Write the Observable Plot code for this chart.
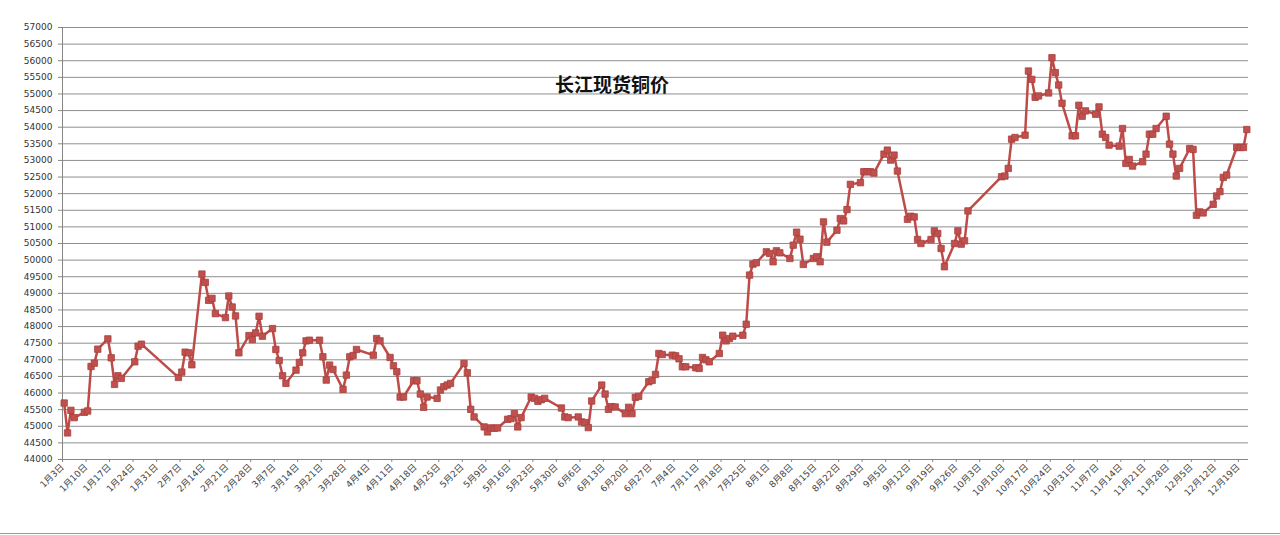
<!DOCTYPE html>
<html>
<head>
<meta charset="utf-8">
<script src="https://cdn.jsdelivr.net/npm/d3@7"></script>
<script src="https://cdn.jsdelivr.net/npm/@observablehq/plot@0.6"></script>
<style>
  html, body { margin: 0; padding: 0; background: #fff; }
  #wrap { position: relative; width: 1280px; height: 535px; overflow: hidden; }
  #title { position: absolute; left: 612px; top: 74px; transform: translateX(-50%);
           font-family: "Noto Sans CJK SC", sans-serif; font-weight: 700; font-size: 19px;
           line-height: 19px; color: #111; white-space: nowrap; }
  #border { position: absolute; left: 0; top: 533px; width: 1280px; height: 1px; background: #9a9a9a; }
</style>
</head>
<body>
<div id="wrap">
  <div id="chart"></div>
  <div id="title">长江现货铜价</div>
  <div id="border"></div>
</div>
<script>
// trading dates (month-day, 2017) and spot copper prices (yuan/ton)
const dates = [
  "1-3","1-4","1-5","1-6","1-9","1-10","1-11","1-12","1-13","1-16","1-17","1-18","1-19","1-20","1-24","1-25","1-26",
  "2-6","2-7","2-8","2-9","2-10","2-13","2-14","2-15","2-16","2-17","2-20","2-21","2-22","2-23","2-24","2-27","2-28",
  "3-1","3-2","3-3","3-6","3-7","3-8","3-9","3-10","3-13","3-14","3-15","3-16","3-17","3-20","3-21","3-22","3-23","3-24","3-27","3-28","3-29","3-30","3-31",
  "4-5","4-6","4-7","4-10","4-11","4-12","4-13","4-14","4-17","4-18","4-19","4-20","4-21","4-24","4-25","4-26","4-27","4-28",
  "5-2","5-3","5-4","5-5","5-8","5-9","5-10","5-11","5-12","5-15","5-16","5-17","5-18","5-19","5-22","5-23","5-24","5-25","5-26","5-31",
  "6-1","6-2","6-5","6-6","6-7","6-8","6-9","6-12","6-13","6-14","6-15","6-16","6-19","6-20","6-21","6-22","6-23","6-26","6-27","6-28","6-29","6-30",
  "7-3","7-4","7-5","7-6","7-7","7-10","7-11","7-12","7-13","7-14","7-17","7-18","7-19","7-20","7-21","7-24","7-25","7-26","7-27","7-28","7-31",
  "8-1","8-2","8-3","8-4","8-7","8-8","8-9","8-10","8-11","8-14","8-15","8-16","8-17","8-18","8-21","8-22","8-23","8-24","8-25","8-28","8-29","8-30","8-31",
  "9-1","9-4","9-5","9-6","9-7","9-8","9-11","9-12","9-13","9-14","9-15","9-18","9-19","9-20","9-21","9-22","9-25","9-26","9-27","9-28","9-29",
  "10-9","10-10","10-11","10-12","10-13","10-16","10-17","10-18","10-19","10-20","10-23","10-24","10-25","10-26","10-27","10-30","10-31",
  "11-1","11-2","11-3","11-6","11-7","11-8","11-9","11-10","11-13","11-14","11-15","11-16","11-17","11-20","11-21","11-22","11-23","11-24","11-27","11-28","11-29","11-30",
  "12-1","12-4","12-5","12-6","12-7","12-8","12-11","12-12","12-13","12-14","12-15","12-18","12-19","12-20","12-21"
];
const prices = [
  45700,44800,45480,45260,45420,45460,46800,46900,47320,47630,47060,46260,46520,46440,46940,47410,47470,
  46470,46630,47230,47210,46850,49580,49330,48790,48850,48390,48270,48920,48590,48320,47210,47730,47610,
  47810,48310,47710,47940,47310,46980,46520,46290,46690,46920,47210,47570,47590,47590,47090,46390,46840,46710,46110,46540,47090,47130,47310,
  47140,47640,47570,47070,46820,46640,45880,45880,46370,46370,45970,45570,45880,45840,46090,46190,46240,46290,
  46890,46610,45510,45280,44980,44830,44950,44940,44950,45210,45230,45380,44980,45260,45880,45840,45750,45800,45840,45550,
  45280,45260,45280,45130,45110,44960,45760,46240,45970,45510,45590,45580,45380,45570,45380,45870,45900,46340,46380,46560,47190,47160,
  47140,47120,47030,46790,46790,46760,46740,47070,47000,46940,47190,47740,47570,47640,47710,47740,48070,49550,49880,49920,50250,
  50200,49950,50280,50220,50050,50450,50840,50630,49870,50050,50100,49950,51150,50540,50900,51250,51180,51520,52280,52330,52660,52660,52660,
  52620,53190,53310,53010,53160,52680,51230,51320,51300,50620,50500,50620,50880,50800,50350,49800,50500,50880,50480,50580,51480,
  52510,52530,52760,53640,53690,53760,55690,55440,54900,54940,55030,56090,55640,55270,54720,53740,53740,
  54660,54330,54490,54390,54610,53790,53690,53460,53430,53960,52910,53030,52830,52960,53190,53790,53790,53960,54330,53490,53190,52530,
  52760,53360,53330,51350,51450,51420,51680,51930,52060,52490,52560,53390,53390,53390,53930
];
// x-axis tick labels (weekly)
const xTickLabels = [
  "1-3","1-10","1-17","1-24","1-31","2-7","2-14","2-21","2-28","3-7","3-14","3-21","3-28",
  "4-4","4-11","4-18","4-25","5-2","5-9","5-16","5-23","5-30","6-6","6-13","6-20","6-27",
  "7-4","7-11","7-18","7-25","8-1","8-8","8-15","8-22","8-29","9-5","9-12","9-19","9-26",
  "10-3","10-10","10-17","10-24","10-31","11-7","11-14","11-21","11-28","12-5","12-12","12-19"
];
const yTicks = [44000,44500,45000,45500,46000,46500,47000,47500,48000,48500,49000,49500,50000,
  50500,51000,51500,52000,52500,53000,53500,54000,54500,55000,55500,56000,56500,57000];

const YEAR = 2017;
const toDate = (s, h = 0) => { const [m, d] = s.split("-").map(Number); return new Date(Date.UTC(YEAR, m - 1, d, h)); };
// points sit in the middle of their day (Excel "between tick marks")
const data = dates.map((s, i) => ({date: toDate(s, 12), price: prices[i]}));
const xTicks = xTickLabels.map(s => toDate(s));
const xStart = toDate("1-3");
const xEnd = toDate("12-22");
const fmt = d => `${d.getUTCMonth() + 1}月${d.getUTCDate()}日`;

const axisColor = "#868686";
const red = "#be4b48";

const chart = Plot.plot({
  width: 1280,
  height: 535,
  marginLeft: 62,
  marginRight: 32,
  marginTop: 27,
  marginBottom: 76,
  style: {fontFamily: "'DejaVu Sans', 'Noto Sans CJK SC', sans-serif", fontSize: "9px", background: "#fff", color: "#333"},
  x: {type: "utc", domain: [xStart, xEnd], label: null},
  y: {domain: [44000, 57000], label: null},
  marks: [
    Plot.gridY(yTicks, {stroke: "#8f8f8f", strokeOpacity: 1, strokeWidth: 1}),
    Plot.ruleX([xStart], {stroke: axisColor}),
    Plot.ruleY([44000], {stroke: axisColor}),
    Plot.axisY(yTicks, {label: null, tickSize: 4, tickPadding: 6, stroke: axisColor, tickFormat: d => String(d), fill: "#333", fontSize: 9}),
    Plot.axisX(xTicks, {label: null, tickRotate: -45, tickSize: 3, tickPadding: 3, stroke: axisColor, tickFormat: fmt, fill: "#444", fontSize: 9}),
    Plot.line(data, {x: "date", y: "price", stroke: red, strokeWidth: 2.5, strokeLinejoin: "round"}),
    Plot.dot(data, {x: "date", y: "price", symbol: "square", r: 3.6, fill: "#c0504d", stroke: "#a8403d", strokeWidth: 0.8})
  ]
});
document.getElementById("chart").appendChild(chart);
</script>
</body>
</html>
